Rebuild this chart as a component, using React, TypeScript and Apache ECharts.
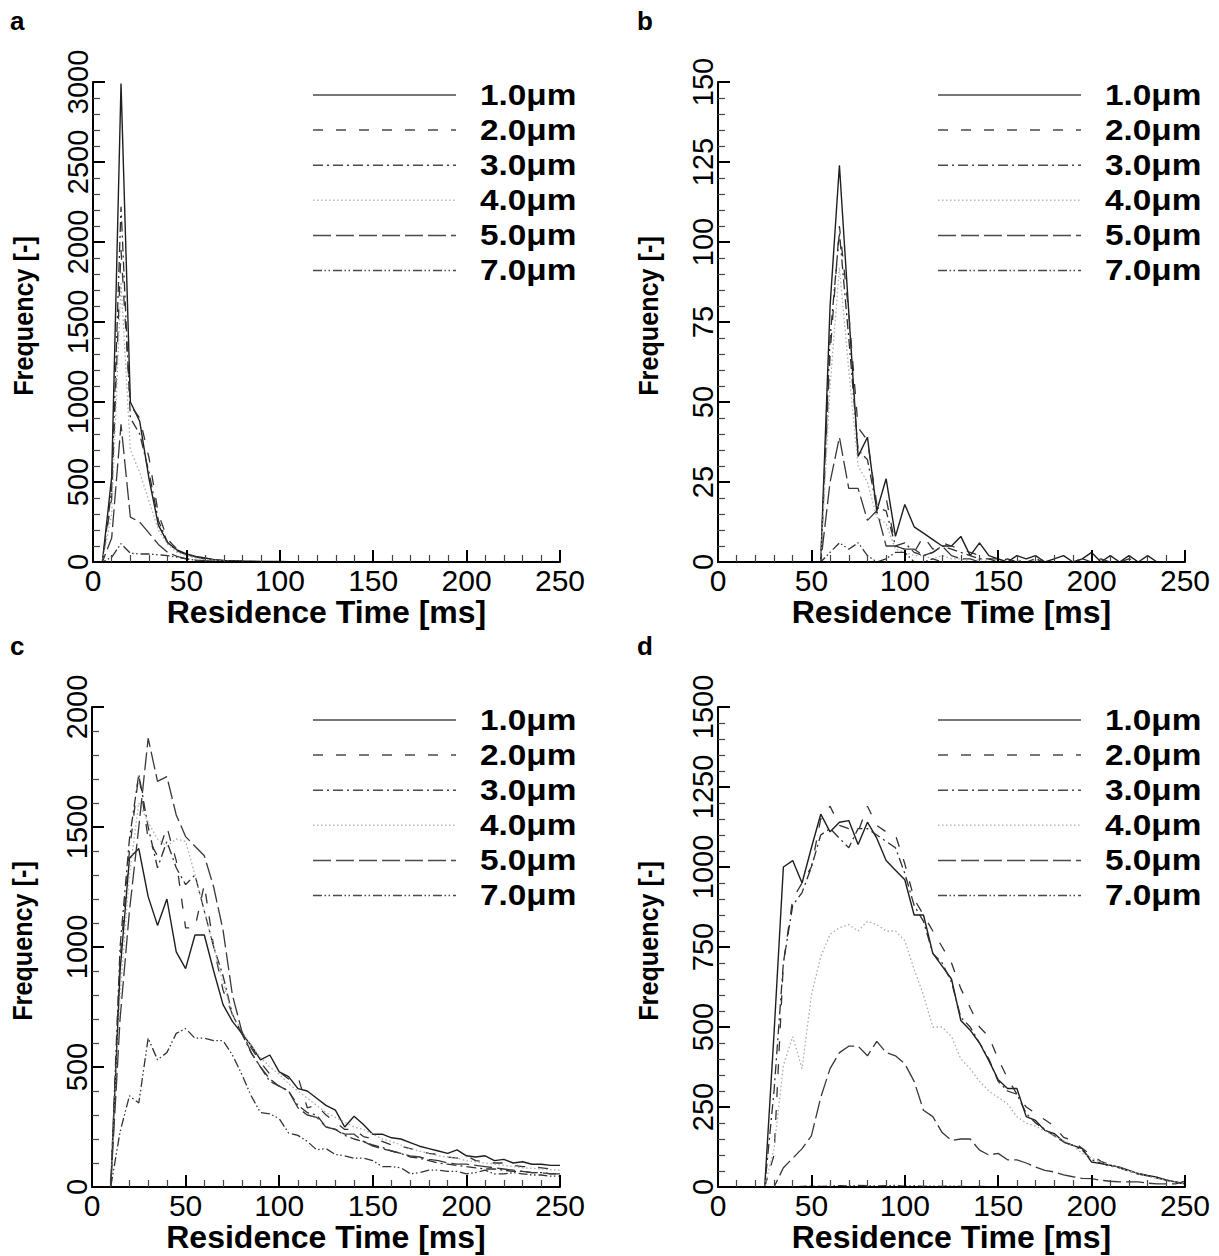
import React, { useEffect, useRef } from "react";
import * as echarts from "echarts";

// Residence time bins [ms]
const xs = [0, 5, 10, 15, 20, 25, 30, 35, 40, 45, 50, 55, 60, 65, 70, 75, 80, 85, 90, 95, 100, 105, 110, 115, 120, 125, 130, 135, 140, 145, 150, 155, 160, 165, 170, 175, 180, 185, 190, 195, 200, 205, 210, 215, 220, 225, 230, 235, 240, 245, 250];

const sizeLabels = ["1.0μm", "2.0μm", "3.0μm", "4.0μm", "5.0μm", "7.0μm"];
const panelLetters = ["a", "b", "c", "d"];
const xTitle = "Residence Time [ms]";
const yTitle = "Frequency [-]";
const yMaxes = [3000, 150, 2000, 1500];
const yIntervals = [500, 25, 500, 250];

// Panel a
const a10 = [0, 0, 530, 2990, 1000, 880, 520, 230, 120, 75, 50, 35, 25, 15, 10, 8, 6, 5, 4, 3, 3, 2, 2, 1, 1, 1, 1, 0, 1, 0, 0, 0, 0, 0, 0, 0, 0, 0, 0, 0, 0, 0, 0, 0, 0, 0, 0, 0, 0, 0, 0];
const a20 = [0, 0, 400, 1950, 980, 900, 650, 300, 140, 80, 50, 30, 20, 12, 8, 5, 4, 3, 2, 2, 1, 1, 1, 1, 0, 1, 0, 0, 0, 0, 0, 0, 0, 0, 0, 0, 0, 0, 0, 0, 0, 0, 0, 0, 0, 0, 0, 0, 0, 0, 0];
const a30 = [0, 0, 450, 2220, 900, 800, 560, 260, 120, 70, 45, 30, 20, 12, 8, 5, 4, 3, 2, 1, 1, 1, 1, 0, 0, 0, 0, 0, 0, 0, 0, 0, 0, 0, 0, 0, 0, 0, 0, 0, 0, 0, 0, 0, 0, 0, 0, 0, 0, 0, 0];
const a40 = [0, 0, 300, 1750, 700, 560, 380, 200, 110, 60, 40, 25, 15, 10, 6, 4, 3, 2, 1, 1, 1, 0, 0, 0, 0, 0, 0, 0, 0, 0, 0, 0, 0, 0, 0, 0, 0, 0, 0, 0, 0, 0, 0, 0, 0, 0, 0, 0, 0, 0, 0];
const a50 = [0, 0, 150, 860, 280, 250, 180, 110, 60, 35, 20, 12, 8, 5, 3, 2, 1, 1, 0, 0, 0, 0, 0, 0, 0, 0, 0, 0, 0, 0, 0, 0, 0, 0, 0, 0, 0, 0, 0, 0, 0, 0, 0, 0, 0, 0, 0, 0, 0, 0, 0];
const a70 = [0, 0, 30, 115, 55, 50, 50, 45, 40, 30, 20, 10, 5, 3, 2, 1, 0, 0, 0, 0, 0, 0, 0, 0, 0, 0, 0, 0, 0, 0, 0, 0, 0, 0, 0, 0, 0, 0, 0, 0, 0, 0, 0, 0, 0, 0, 0, 0, 0, 0, 0];

// Panel b
const b10 = [0, 0, 0, 0, 0, 0, 0, 0, 0, 0, 0, 0, 80, 124, 78, 33, 39, 16, 26, 8, 18, 11, 9, 7, 5, 5, 8, 2, 6, 2, 1, 0, 2, 1, 2, 0, 1, 2, 0, 1, 3, 0, 2, 0, 2, 0, 2, 0, 0, 0, 0];
const b20 = [0, 0, 0, 0, 0, 0, 0, 0, 0, 0, 0, 0, 65, 105, 78, 42, 38, 18, 20, 5, 4, 3, 8, 4, 6, 5, 4, 3, 2, 1, 1, 1, 0, 1, 0, 1, 0, 0, 1, 0, 0, 1, 0, 0, 1, 0, 0, 0, 0, 0, 0];
const b30 = [0, 0, 0, 0, 0, 0, 0, 0, 0, 0, 0, 0, 70, 103, 70, 35, 32, 17, 16, 5, 6, 3, 2, 3, 5, 4, 3, 2, 1, 1, 0, 1, 0, 0, 1, 0, 0, 0, 0, 1, 0, 0, 0, 0, 0, 0, 0, 0, 0, 0, 0];
const b40 = [0, 0, 0, 0, 0, 0, 0, 0, 0, 0, 0, 0, 55, 92, 60, 30, 25, 14, 12, 4, 3, 2, 2, 1, 2, 1, 1, 0, 1, 0, 0, 0, 0, 0, 0, 0, 0, 0, 0, 0, 0, 0, 0, 0, 0, 0, 0, 0, 0, 0, 0];
const b50 = [0, 0, 0, 0, 0, 0, 0, 0, 0, 0, 0, 0, 25, 39, 23, 23, 13, 16, 5, 5, 4, 4, 2, 3, 5, 2, 1, 1, 0, 0, 0, 0, 0, 0, 0, 0, 0, 0, 0, 0, 0, 0, 0, 0, 0, 0, 0, 0, 0, 0, 0];
const b70 = [0, 0, 0, 0, 0, 0, 0, 0, 0, 0, 0, 0, 3, 6, 4, 6, 2, 0, 1, 3, 3, 0, 0, 1, 0, 0, 0, 0, 0, 0, 0, 0, 0, 0, 0, 0, 0, 0, 0, 0, 0, 0, 0, 0, 0, 0, 0, 0, 0, 0, 0];

// Panel c
const c10 = [0, 0, 0, 900, 1370, 1410, 1210, 1090, 1200, 980, 910, 1050, 1050, 900, 760, 690, 640, 590, 530, 550, 480, 460, 410, 400, 370, 340, 320, 250, 295, 260, 220, 220, 205, 200, 185, 170, 160, 150, 140, 155, 130, 125, 130, 110, 115, 100, 105, 95, 95, 90, 90];
const c20 = [0, 0, 0, 950, 1400, 1720, 1450, 1380, 1500, 1360, 1080, 1080, 1260, 1000, 820, 720, 640, 580, 520, 470, 480, 450, 460, 330, 340, 300, 270, 240, 240, 210, 200, 190, 175, 170, 160, 150, 140, 135, 125, 120, 130, 110, 105, 100, 100, 90, 85, 85, 80, 75, 70];
const c30 = [0, 0, 0, 1000, 1450, 1720, 1500, 1330, 1440, 1330, 1260, 1300, 1150, 1000, 880, 720, 640, 560, 500, 440, 420, 400, 340, 310, 300, 250, 240, 215, 200, 190, 175, 165, 150, 140, 125, 120, 110, 100, 95, 90, 85, 80, 75, 75, 70, 65, 65, 60, 60, 55, 55];
const c40 = [0, 0, 0, 800, 1300, 1600, 1520, 1450, 1420, 1450, 1440, 1300, 1150, 1000, 850, 720, 650, 590, 540, 500, 470, 430, 400, 370, 340, 310, 290, 270, 250, 240, 220, 200, 190, 175, 160, 150, 140, 130, 125, 120, 110, 105, 100, 95, 90, 85, 80, 78, 75, 72, 70];
const c50 = [0, 0, 0, 700, 1150, 1500, 1870, 1690, 1710, 1550, 1460, 1420, 1380, 1250, 1070, 800, 650, 560, 500, 450, 420, 400, 330, 300, 290, 250, 240, 220, 220, 190, 170, 160, 150, 140, 130, 125, 115, 110, 100, 95, 95, 90, 85, 80, 75, 70, 65, 60, 60, 55, 55];
const c70 = [0, 0, 0, 230, 380, 350, 620, 530, 560, 640, 660, 620, 620, 610, 610, 550, 470, 380, 310, 305, 285, 225, 215, 190, 155, 160, 135, 130, 120, 120, 110, 85, 85, 80, 55, 60, 70, 70, 65, 65, 55, 60, 70, 55, 55, 60, 55, 50, 50, 45, 45];

// Panel d
const d10 = [0, 0, 0, 0, 0, 0, 480, 1000, 1020, 950, 1060, 1165, 1110, 1140, 1145, 1070, 1140, 1090, 1020, 990, 960, 850, 850, 730, 690, 650, 520, 490, 450, 395, 335, 308, 308, 220, 208, 177, 167, 141, 130, 120, 78, 73, 68, 62, 52, 42, 36, 31, 21, 16, 10];
const d20 = [0, 0, 0, 0, 0, 0, 100, 700, 900, 950, 1000, 1150, 1190, 1130, 1120, 1110, 1190, 1130, 1110, 1100, 1010, 900, 850, 800, 750, 700, 620, 560, 500, 470, 400, 340, 290, 250, 230, 210, 190, 155, 145, 120, 100, 80, 70, 60, 50, 42, 35, 30, 22, 15, 10];
const d30 = [0, 0, 0, 0, 0, 0, 300, 700, 880, 920, 1000, 1100, 1120, 1090, 1060, 1120, 1120, 1100, 1080, 1060, 980, 880, 830, 730, 700, 640, 530, 500, 450, 400, 330, 300, 290, 230, 200, 180, 160, 140, 130, 115, 85, 75, 65, 60, 50, 40, 35, 28, 22, 15, 10];
const d40 = [0, 0, 0, 0, 0, 0, 120, 380, 470, 370, 600, 720, 790, 810, 820, 800, 830, 820, 800, 800, 770, 680, 600, 500, 500, 470, 400, 370, 330, 300, 280, 260, 220, 200, 190, 175, 160, 145, 130, 105, 90, 78, 68, 60, 50, 42, 33, 27, 21, 15, 10];
const d50 = [0, 0, 0, 0, 0, 0, 0, 60, 90, 120, 160, 280, 370, 420, 440, 440, 410, 455, 420, 410, 385, 330, 240, 220, 170, 145, 150, 150, 115, 100, 105, 85, 85, 75, 62, 52, 47, 38, 32, 27, 26, 21, 18, 16, 16, 16, 12, 10, 10, 10, 18];
const d70 = [0, 0, 0, 0, 0, 0, 0, 0, 0, 2, 3, 2, 3, 4, 3, 5, 4, 3, 4, 5, 3, 4, 2, 3, 2, 3, 2, 1, 2, 1, 0, 0, 0, 0, 0, 0, 0, 0, 0, 0, 0, 0, 0, 0, 0, 0, 0, 0, 0, 0, 0];

const panelSeries = [
  [a10, a20, a30, a40, a50, a70],
  [b10, b20, b30, b40, b50, b70],
  [c10, c20, c30, c40, c50, c70],
  [d10, d20, d30, d40, d50, d70],
];

const FONT = "'Liberation Sans', Arial, Helvetica, sans-serif";

const lineStyles = [
  { color: "#1e1e1e", type: "solid" as any, width: 1.4 },
  { color: "#333333", type: [10, 13], width: 1.3 },
  { color: "#2e2e2e", type: [10, 4, 2, 4], width: 1.3 },
  { color: "#ababab", type: [1.5, 2.5], width: 1.3 },
  { color: "#383838", type: [18, 5], width: 1.3 },
  { color: "#333333", type: [9, 2.5, 1.5, 2.5, 1.5, 3], width: 1.3 },
];

const grids = [
  { left: 93, top: 82, width: 467, height: 480 },
  { left: 718, top: 82, width: 467, height: 480 },
  { left: 92, top: 707, width: 468, height: 480 },
  { left: 718, top: 707, width: 467, height: 480 },
];
const offsets = [
  [0, 0],
  [625, 0],
  [0, 625],
  [625, 625],
];

function buildOption() {
  const xAxis = grids.map((_, i) => ({
    gridIndex: i,
    type: "value",
    min: 0,
    max: 250,
    interval: 50,
    name: xTitle,
    nameLocation: "middle",
    nameGap: 48,
    nameTextStyle: { fontFamily: FONT, fontWeight: "bold", fontSize: 32, color: "#000", verticalAlign: "middle" },
    axisLine: { show: true, onZero: false, lineStyle: { color: "#000", width: 2 } },
    axisTick: { show: true, inside: true, length: 12, lineStyle: { color: "#000", width: 2 } },
    minorTick: { show: true, splitNumber: 5, length: 7, lineStyle: { color: "#444", width: 1.2 } },
    axisLabel: {
      fontFamily: FONT,
      fontSize: 30,
      color: "#000",
      margin: 18,
      verticalAlign: "middle",
      formatter: (v: number) => String(v),
    },
    splitLine: { show: false },
    minorSplitLine: { show: false },
    z: 10,
  }));
  const yAxis = grids.map((_, i) => ({
    gridIndex: i,
    type: "value",
    min: 0,
    max: yMaxes[i],
    interval: yIntervals[i],
    axisLine: { show: true, onZero: false, lineStyle: { color: "#000", width: 2 } },
    axisTick: { show: true, inside: true, length: 12, lineStyle: { color: "#000", width: 2 } },
    minorTick: { show: true, splitNumber: 5, length: 7, lineStyle: { color: "#444", width: 1.2 } },
    axisLabel: {
      fontFamily: FONT,
      fontSize: 29,
      color: "#000",
      margin: 15,
      rotate: 90,
      align: "center",
      verticalAlign: "middle",
      formatter: (v: number) => String(v),
    },
    splitLine: { show: false },
    minorSplitLine: { show: false },
    z: 10,
  }));

  const series: any[] = [];
  panelSeries.forEach((arrs, p) => {
    arrs.forEach((arr, s) => {
      series.push({
        type: "line",
        name: sizeLabels[s],
        xAxisIndex: p,
        yAxisIndex: p,
        data: xs.map((x, k) => [x, arr[k]]),
        showSymbol: false,
        symbol: "none",
        silent: true,
        lineStyle: { ...lineStyles[s] },
        z: 2,
      });
    });
  });

  const graphic: any[] = [];
  offsets.forEach(([dx, dy], p) => {
    const g = grids[p];
    graphic.push({
      type: "text",
      x: p % 2 === 0 ? 10 : 637,
      y: 21 + dy,
      style: {
        text: panelLetters[p],
        font: `bold 26px ${FONT}`,
        fill: "#000",
        align: "left",
        verticalAlign: "middle",
        textAlign: "left",
        textVerticalAlign: "middle",
      },
    });
    // y-axis title (rotated, slightly condensed along its length)
    graphic.push({
      type: "text",
      x: g.left - 69,
      y: g.top + g.height / 2 - 6,
      rotation: Math.PI / 2,
      scaleX: 0.9,
      style: {
        text: yTitle,
        font: `bold 28px ${FONT}`,
        fill: "#000",
        align: "center",
        verticalAlign: "middle",
        textAlign: "center",
        textVerticalAlign: "middle",
      },
    });
    sizeLabels.forEach((lab, r) => {
      const y = 95 + 35.1 * r + dy;
      const ls = lineStyles[r];
      graphic.push({
        type: "line",
        shape: { x1: 313 + dx, y1: y, x2: 456 + dx, y2: y },
        style: {
          stroke: r === 3 ? "#b8b8b8" : "#4a4a4a",
          lineWidth: r === 0 ? 1.6 : 1.5,
          lineDash: Array.isArray(ls.type) ? ls.type : null,
        },
      });
      graphic.push({
        type: "text",
        x: 480 + dx,
        y: y,
        scaleX: 1.15,
        style: {
          text: lab,
          font: `bold 29px ${FONT}`,
          fill: "#000",
          align: "left",
          verticalAlign: "middle",
          textAlign: "left",
          textVerticalAlign: "middle",
        },
      });
    });
  });

  return {
    animation: false,
    backgroundColor: "#ffffff",
    grid: grids.map((g) => ({ ...g, containLabel: false })),
    xAxis,
    yAxis,
    series,
    graphic,
  };
}

export default function App() {
  const ref = useRef<HTMLDivElement>(null);
  useEffect(() => {
    const chart = echarts.init(ref.current as HTMLDivElement, null, { renderer: "svg" });
    chart.setOption(buildOption() as any);
    return () => {
      chart.dispose();
    };
  }, []);
  return (
    <div
      ref={ref}
      style={{ position: "absolute", left: 0, top: 0, width: 1219, height: 1256, background: "#fff" }}
    />
  );
}
